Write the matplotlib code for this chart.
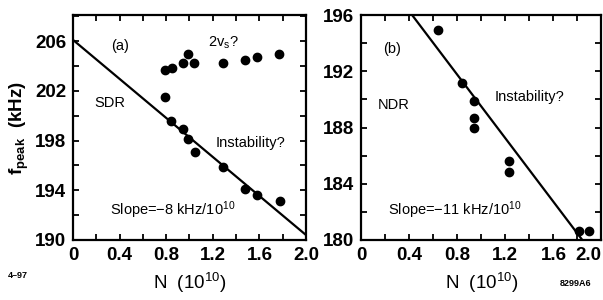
import numpy as np
import matplotlib
matplotlib.use('Agg')
import matplotlib.pyplot as plt
from matplotlib.ticker import MultipleLocator

plt.rcParams['font.family'] = ['Liberation Sans', 'DejaVu Sans']
plt.rcParams['mathtext.default'] = 'regular'

# panel (a): SDR, upper branch (2 nu_s?) and lower branch
Na_up = [0.79, 0.85, 0.94, 0.99, 1.04, 1.29, 1.48, 1.58, 1.77]
fa_up = [203.7, 203.85, 204.2, 205.0, 204.25, 204.25, 204.45, 204.7, 205.0]
Na_lo = [0.79, 0.84, 0.94, 0.99, 1.05, 1.29, 1.48, 1.58, 1.78]
fa_lo = [201.5, 199.6, 198.95, 198.1, 197.1, 195.9, 194.1, 193.6, 193.15]
fit_a = (206.1, -7.85)   # intercept, slope

# panel (b): NDR
Nb = [0.64, 0.84, 0.94, 0.94, 0.94, 1.23, 1.23, 1.81, 1.90]
fb = [194.9, 191.15, 189.9, 188.7, 188.0, 185.6, 184.85, 180.65, 180.65]
fit_b = (200.8, -11.3)

xlabels = ['0', '0.4', '0.8', '1.2', '1.6', '2.0']

fig = plt.figure(figsize=(6.03, 3.0), dpi=100)
ax1 = fig.add_axes([0.121, 0.2, 0.3865, 0.75])
ax2 = fig.add_axes([0.5987, 0.2, 0.3988, 0.75])

def style(ax, ylo, yhi, yt):
    ax.set_xlim(0, 2.0)
    ax.set_ylim(ylo, yhi)
    ax.xaxis.set_minor_locator(MultipleLocator(0.2))
    ax.yaxis.set_minor_locator(MultipleLocator(2))
    ax.tick_params(which='both', direction='in', top=True, right=True,
                   length=4.5, width=1.3)
    ax.tick_params(which='major', labelsize=13.5, pad=5)
    ax.set_xticks(np.arange(0, 2.01, 0.4))
    ax.set_xticklabels(xlabels, fontweight='bold')
    ax.set_yticks(yt)
    ax.set_yticklabels([str(v) for v in yt], fontweight='bold')
    for s in ax.spines.values():
        s.set_linewidth(1.6)
    ax.set_xlabel('N  (10$^{10}$)', fontsize=13.5, labelpad=5)

xx = np.array([0.0, 2.0])
fs = 10.5

ax1.plot(Na_up, fa_up, 'ko', ms=6)
ax1.plot(Na_lo, fa_lo, 'ko', ms=6)
ax1.plot(xx, fit_a[0] + fit_a[1]*xx, 'k-', lw=1.6)
style(ax1, 190, 208.1, [190, 194, 198, 202, 206])
ax1.set_ylabel('f$_{peak}$  (kHz)', fontsize=13.5, fontweight='bold', labelpad=3)
ax1.text(0.40, 205.6, '(a)', fontsize=fs, ha='center', va='center')
ax1.text(1.29, 205.9, '2v$_s$?', fontsize=fs, ha='center', va='center')
ax1.text(0.32, 201.0, 'SDR', fontsize=fs, ha='center', va='center')
ax1.text(1.52, 197.8, 'Instability?', fontsize=fs, ha='center', va='center')
ax1.text(0.86, 192.4, 'Slope=\u22128 kHz/10$^{10}$', fontsize=fs, ha='center', va='center')

ax2.plot(Nb, fb, 'ko', ms=6, clip_on=False)
ax2.plot(xx, fit_b[0] + fit_b[1]*xx, 'k-', lw=1.6)
style(ax2, 180, 196, [180, 184, 188, 192, 196])
ax2.get_xticklabels()[-1].set_ha('right')
ax2.text(0.255, 193.55, '(b)', fontsize=fs, ha='center', va='center')
ax2.text(0.27, 189.6, 'NDR', fontsize=fs, ha='center', va='center')
ax2.text(1.40, 190.15, 'Instability?', fontsize=fs, ha='center', va='center')
ax2.text(0.78, 182.1, 'Slope=\u221211 kHz/10$^{10}$', fontsize=fs, ha='center', va='center')

fig.text(0.013, 0.073, '4\u201397', fontsize=6.5, fontweight='bold')
fig.text(0.955, 0.045, '8299A6', fontsize=6.5, fontweight='bold', ha='center')

fig.savefig('out.png', dpi=100)
